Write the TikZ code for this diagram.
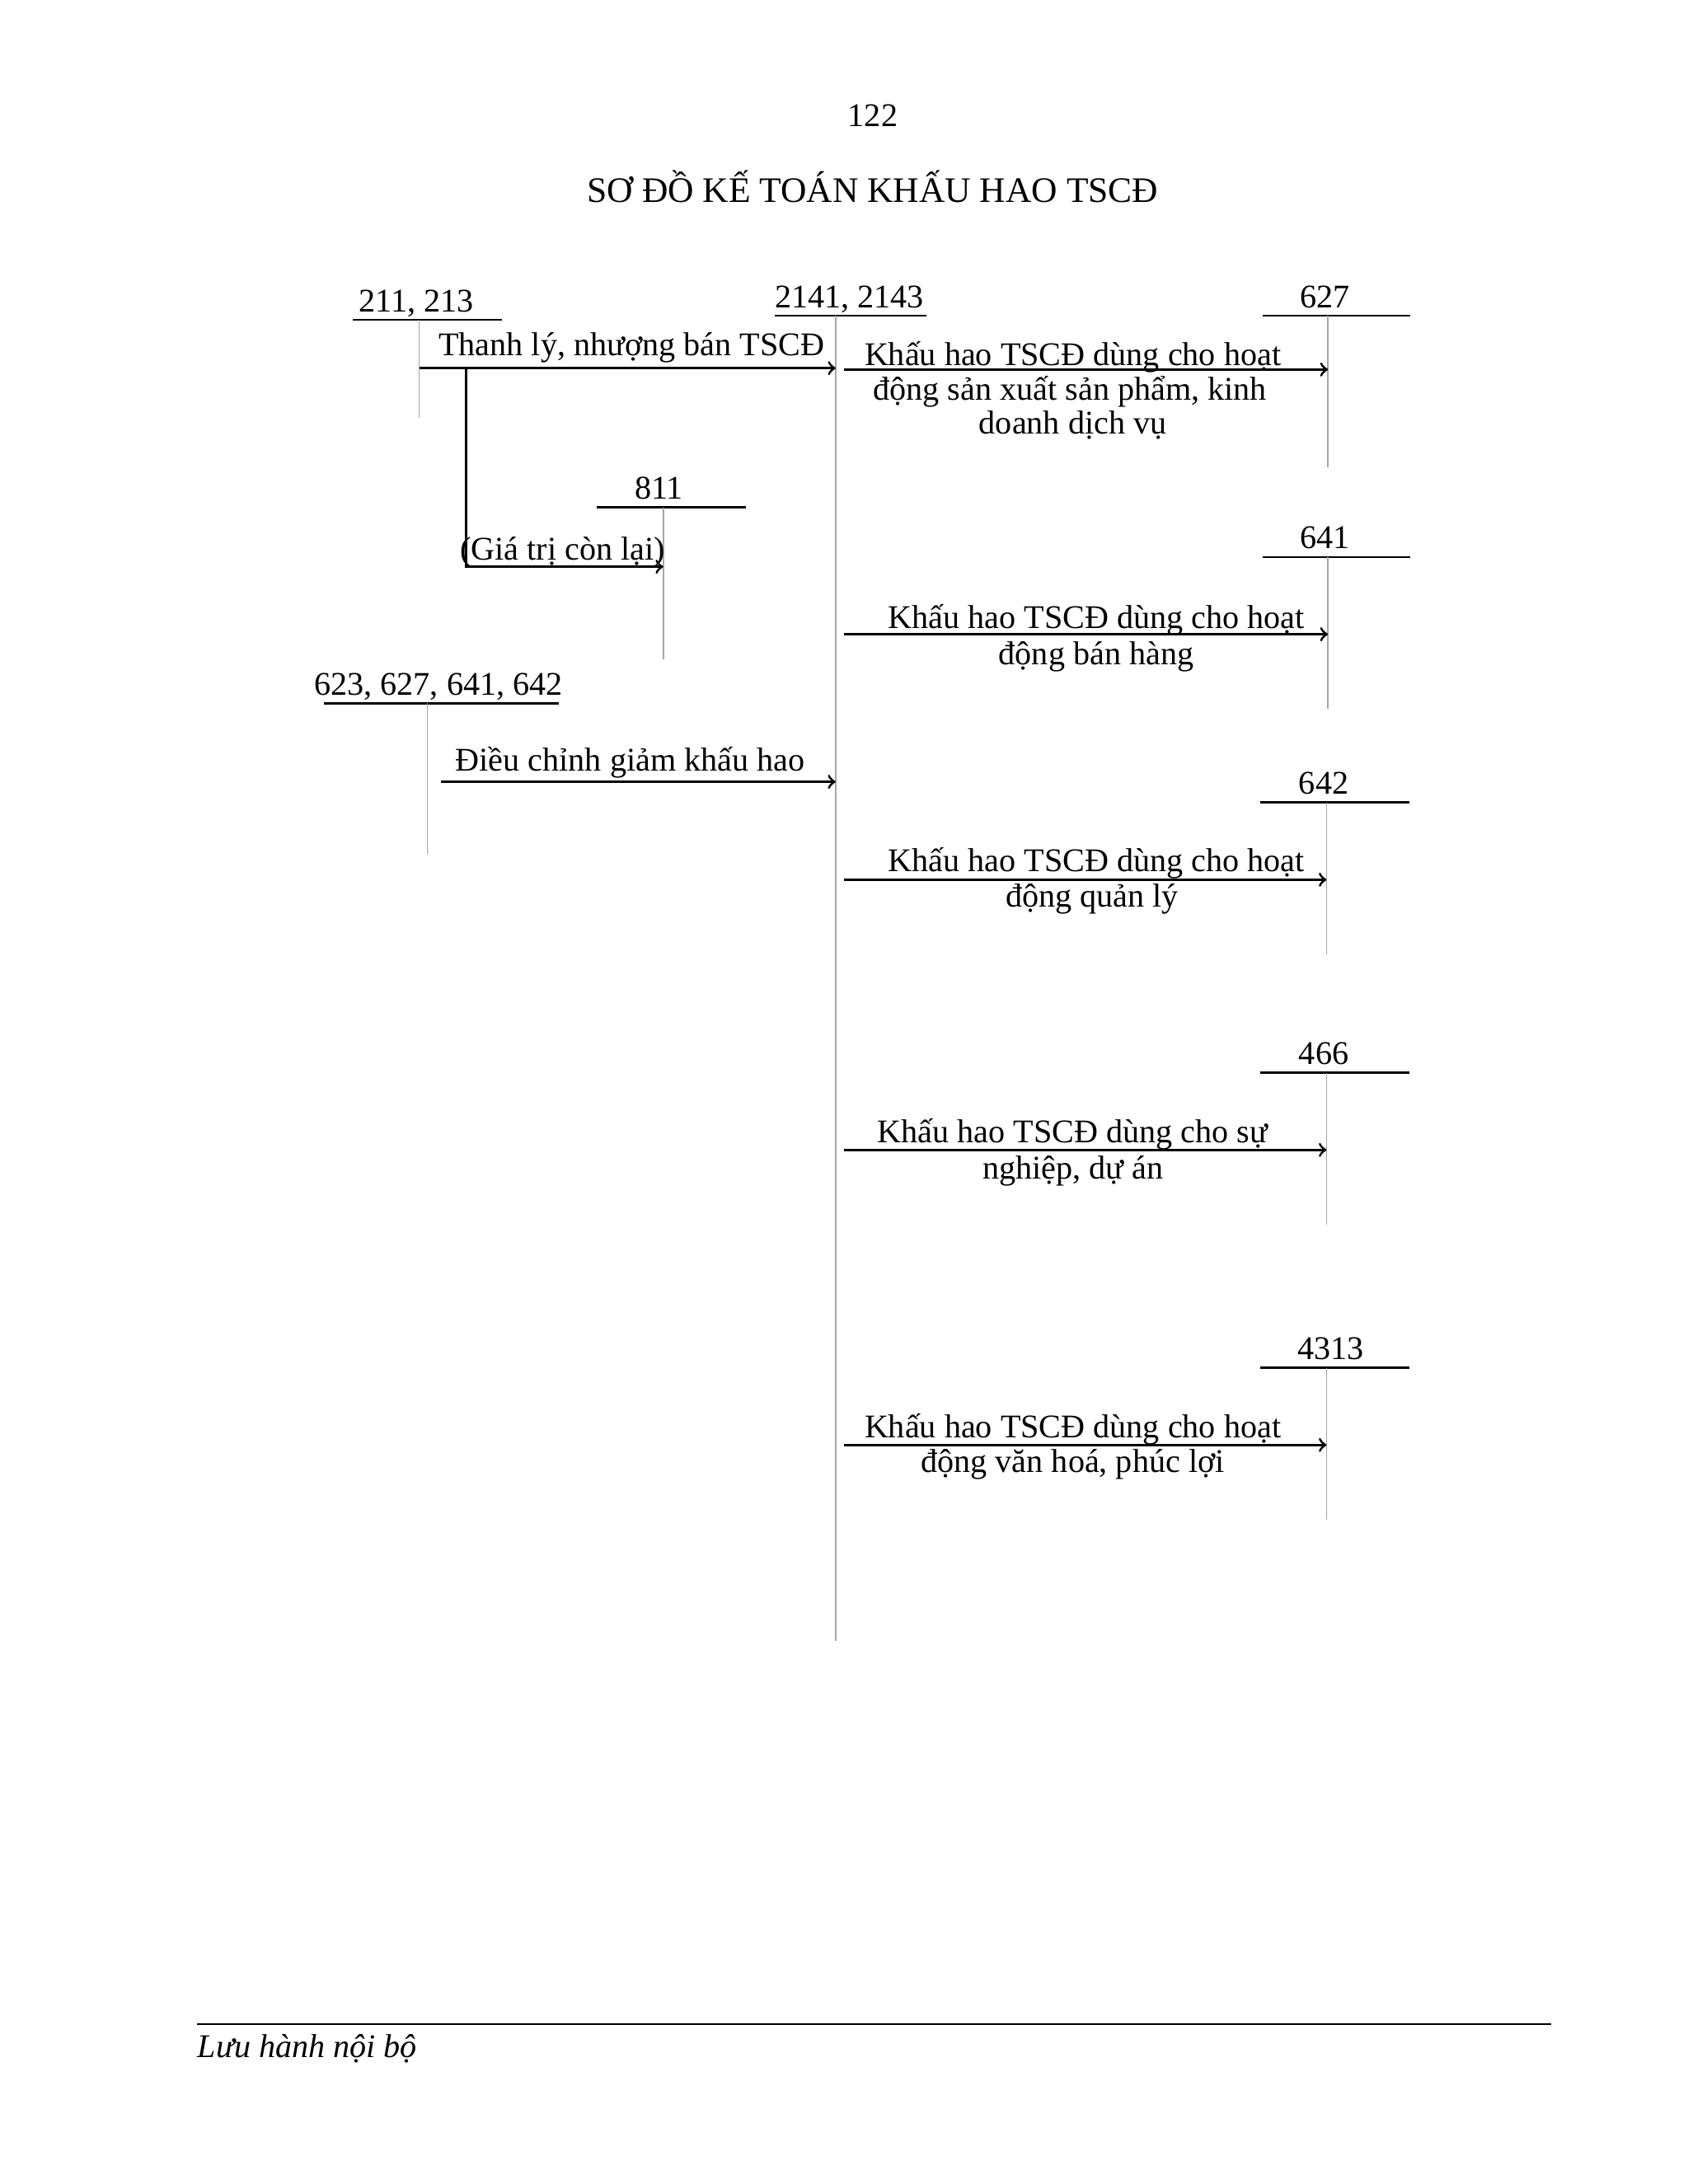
\documentclass[tikz,border=0pt]{standalone}
\usepackage{fontspec}
\setmainfont{Liberation Serif}
\begin{document}
\begin{tikzpicture}[x=0.5pt,y=-0.5pt,
  txt/.style={inner sep=0pt,font=\fontsize{12}{14}\selectfont,anchor=base},
  acct/.style={line width=0.8pt},
  tline/.style={line width=0.5pt,draw=gray!70},
  arr/.style={line width=0.9pt,-to}]
\useasboundingbox[fill=white] (0,0) rectangle (1224,1584);
\node[txt] (pg) at (633,92) {122};
\node[txt,font=\fontsize{13}{15}\selectfont] (title) at (633,147) {SƠ ĐỒ KẾ TOÁN KHẤU HAO TSCĐ};
% T-accounts
\newcommand{\tacc}[7]{% name,label x,label,underline x1,x2,y,bottom ; vertical x = #7
  \node[txt] (#1) at (#2,#6-6) {#3};
  \draw[acct] (#4,#6) -- (#5,#6);
  \coordinate (#1t) at (#7,#6);}
\tacc{a211}{302}{211, 213}{256}{364}{232}{304}
\draw[tline] (a211t) -- ++(0,71) coordinate (a211b);
\tacc{a2141}{616}{2141, 2143}{562}{672}{229}{606}
\draw[tline] (a2141t) -- (606,1190) coordinate (a2141b);
\tacc{a627}{961}{627}{916}{1023}{229}{963}
\draw[tline] (a627t) -- ++(0,110);
\tacc{a811}{478}{811}{433}{541}{368}{481}
\draw[tline] (a811t) -- ++(0,110);
\tacc{a641}{961}{641}{916}{1023}{404}{963}
\draw[tline] (a641t) -- ++(0,110);
\tacc{a623}{318}{623, 627, 641, 642}{235}{405}{510}{310}
\draw[tline] (a623t) -- ++(0,110);
\tacc{a642}{960}{642}{914}{1022}{582}{962}
\draw[tline] (a642t) -- ++(0,110);
\tacc{a466}{960}{466}{914}{1022}{778}{962}
\draw[tline] (a466t) -- ++(0,110);
\tacc{a4313}{965}{4313}{914}{1022}{992}{962}
\draw[tline] (a4313t) -- ++(0,110);
% arrows
\coordinate (s1) at (304,267); \coordinate (e1) at (606,267);
\draw[arr] (s1) -- (e1);
\node[txt] (l1) at (458,258) {Thanh lý, nhượng bán TSCĐ};
\coordinate (b1) at (338,267); \coordinate (b2) at (338,411); \coordinate (b3) at (481,411);
\draw[arr] (b1) -- (b2) -- (b3);
\node[txt] (l2) at (408,406) {(Giá trị còn lại)};
\coordinate (s3) at (612,268); \coordinate (e3) at (963,268);
\draw[arr] (s3) -- (e3);
\node[txt] (l3a) at (778,265) {Khấu hao TSCĐ dùng cho hoạt};
\node[txt] (l3b) at (776,290) {động sản xuất sản phẩm, kinh};
\node[txt] (l3c) at (778,315) {doanh dịch vụ};
\coordinate (s4) at (612,460); \coordinate (e4) at (963,460);
\draw[arr] (s4) -- (e4);
\node[txt] (l4a) at (795,456) {Khấu hao TSCĐ dùng cho hoạt};
\node[txt] (l4b) at (795,482) {động bán hàng};
\coordinate (s5) at (320,567); \coordinate (e5) at (606,567);
\draw[arr] (s5) -- (e5);
\node[txt] (l5) at (457,559) {Điều chỉnh giảm khấu hao};
\coordinate (s6) at (612,638); \coordinate (e6) at (962,638);
\draw[arr] (s6) -- (e6);
\node[txt] (l6a) at (795,632) {Khấu hao TSCĐ dùng cho hoạt};
\node[txt] (l6b) at (792,658) {động quản lý};
\coordinate (s7) at (612,834); \coordinate (e7) at (962,834);
\draw[arr] (s7) -- (e7);
\node[txt] (l7a) at (778,829) {Khấu hao TSCĐ dùng cho sự};
\node[txt] (l7b) at (778,855) {nghiệp, dự án};
\coordinate (s8) at (612,1048); \coordinate (e8) at (962,1048);
\draw[arr] (s8) -- (e8);
\node[txt] (l8a) at (778,1043) {Khấu hao TSCĐ dùng cho hoạt};
\node[txt] (l8b) at (778,1068) {động văn hoá, phúc lợi};
% footer
\coordinate (f1) at (143,1468); \coordinate (f2) at (1125,1468);
\draw[line width=0.8pt] (f1) -- (f2);
\node[txt,anchor=base west,font=\fontsize{12}{14}\selectfont\itshape] (foot) at (143,1492) {Lưu hành nội bộ};
\end{tikzpicture}
\end{document}
